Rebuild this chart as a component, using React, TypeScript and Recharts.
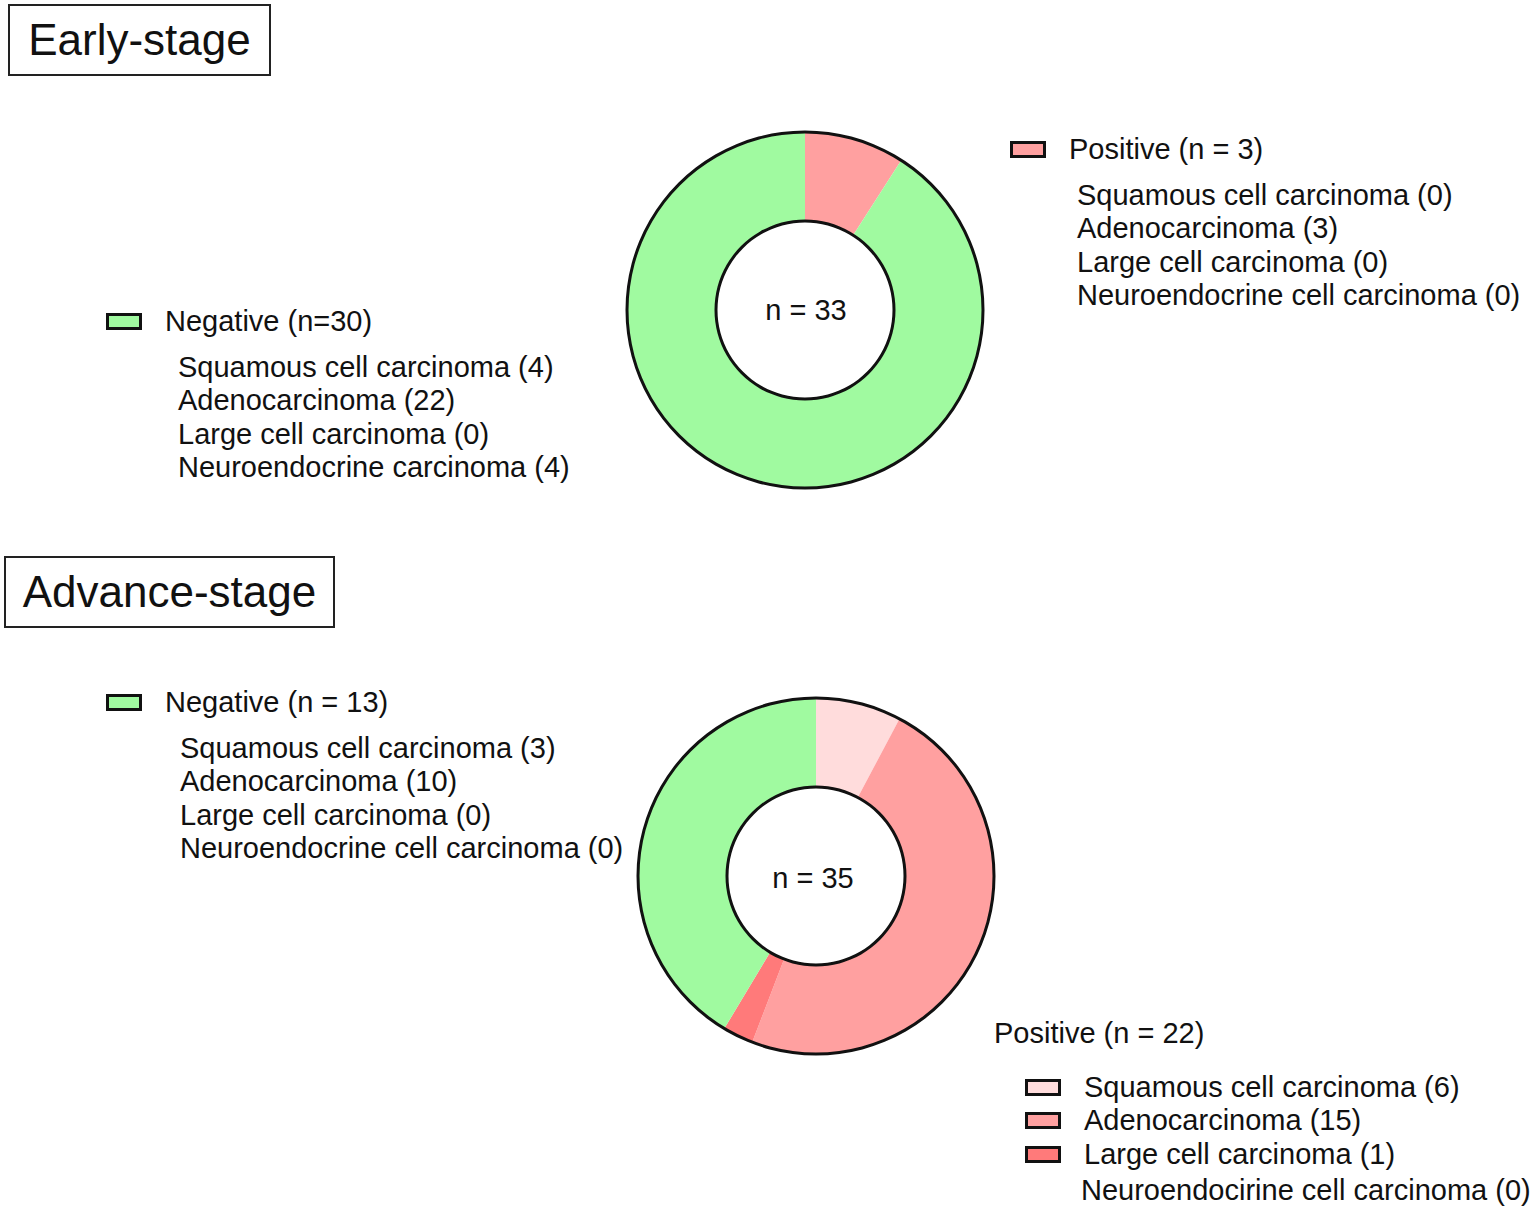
import React from 'react';
import { PieChart, Pie, Cell } from 'recharts';

// Early-stage counts
const earlyNames = ['Positive', 'Negative'];
const earlyCounts = [3, 30];
const earlyColors = ['#FFA0A0', '#A0FAA0'];

// Advance-stage: the drawn slices are not proportional to the counts,
// so the slice shares below are read from the slice angles (degrees).
const advanceNames = ['Squamous cell carcinoma', 'Adenocarcinoma', 'Large cell carcinoma', 'Negative'];
const advanceSliceShares = [28, 173, 10, 149];
const advanceColors = ['#FFDCDC', '#FFA0A0', '#FF7A7A', '#A0FAA0'];

const earlyPositiveLines = [
  'Squamous cell carcinoma (0)',
  'Adenocarcinoma (3)',
  'Large cell carcinoma (0)',
  'Neuroendocrine cell carcinoma (0)',
];
const earlyNegativeLines = [
  'Squamous cell carcinoma (4)',
  'Adenocarcinoma (22)',
  'Large cell carcinoma (0)',
  'Neuroendocrine carcinoma (4)',
];
const advanceNegativeLines = [
  'Squamous cell carcinoma (3)',
  'Adenocarcinoma (10)',
  'Large cell carcinoma (0)',
  'Neuroendocrine cell carcinoma (0)',
];
const advancePositiveLines = [
  'Squamous cell carcinoma (6)',
  'Adenocarcinoma (15)',
  'Large cell carcinoma (1)',
  'Neuroendocirine cell carcinoma (0)',
];

const earlyData = earlyNames.map((name, i) => ({ name, value: earlyCounts[i] }));
const advanceData = advanceNames.map((name, i) => ({ name, value: advanceSliceShares[i] }));
const ring = [{ name: 'ring', value: 1 }];

const FONT = 'Arial, "Liberation Sans", Helvetica, sans-serif';
const LH = 33.4;
const EARLY = { cx: 805, cy: 310 };
const ADV = { cx: 816, cy: 876 };

function Line({ x, cy, children, center }: { x: number; cy: number; children: React.ReactNode; center?: boolean }) {
  return (
    <div
      style={{
        position: 'absolute',
        left: x,
        top: cy - 17,
        fontSize: 29,
        lineHeight: '34px',
        whiteSpace: 'nowrap',
        color: '#111',
        transform: center ? 'translateX(-50%)' : undefined,
      }}
    >
      {children}
    </div>
  );
}

function Swatch({ x, cy, color }: { x: number; cy: number; color: string }) {
  return (
    <div
      style={{
        position: 'absolute',
        left: x,
        top: cy - 8,
        width: 36,
        height: 17,
        boxSizing: 'border-box',
        border: '3px solid #111',
        background: color,
      }}
    />
  );
}

function TitleBox({ x, y, w, h, text }: { x: number; y: number; w: number; h: number; text: string }) {
  return (
    <div
      style={{
        position: 'absolute',
        left: x,
        top: y,
        width: w,
        height: h,
        boxSizing: 'border-box',
        border: '2px solid #222',
        display: 'flex',
        alignItems: 'center',
        justifyContent: 'center',
        fontSize: 44,
        color: '#111',
      }}
    >
      {text}
    </div>
  );
}

function Donut({ data, colors, cx, cy }: { data: { name: string; value: number }[]; colors: string[]; cx: number; cy: number }) {
  return [
    <Pie
      key={`slices-${cx}`}
      data={data}
      dataKey="value"
      cx={cx}
      cy={cy}
      innerRadius={89}
      outerRadius={178}
      startAngle={90}
      endAngle={-270}
      stroke="none"
      isAnimationActive={false}
    >
      {data.map((d, i) => (
        <Cell key={d.name} fill={colors[i]} />
      ))}
    </Pie>,
    <Pie key={`outer-${cx}`} data={ring} dataKey="value" cx={cx} cy={cy} innerRadius={176.5} outerRadius={179.5} fill="#111" stroke="none" isAnimationActive={false} />,
    <Pie key={`inner-${cx}`} data={ring} dataKey="value" cx={cx} cy={cy} innerRadius={87.5} outerRadius={90.5} fill="#111" stroke="none" isAnimationActive={false} />,
  ];
}

export default function App() {
  return (
    <div style={{ position: 'absolute', left: 0, top: 0, width: 1535, height: 1211, background: '#fff', fontFamily: FONT }}>
      <PieChart width={1535} height={1211} margin={{ top: 0, right: 0, bottom: 0, left: 0 }} style={{ position: 'absolute', left: 0, top: 0 }}>
        {Donut({ data: earlyData, colors: earlyColors, ...EARLY })}
        {Donut({ data: advanceData, colors: advanceColors, ...ADV })}
      </PieChart>

      <Line x={EARLY.cx + 1} cy={EARLY.cy} center>n = 33</Line>
      <Line x={ADV.cx - 3} cy={ADV.cy + 2} center>n = 35</Line>

      <TitleBox x={8} y={4} w={263} h={72} text="Early-stage" />
      <TitleBox x={4} y={556} w={331} h={72} text="Advance-stage" />

      {/* Early-stage positive */}
      <Swatch x={1010} cy={149} color={earlyColors[0]} />
      <Line x={1069} cy={149}>Positive (n = 3)</Line>
      {earlyPositiveLines.map((t, i) => (
        <Line key={t} x={1077} cy={195 + i * LH}>{t}</Line>
      ))}

      {/* Early-stage negative */}
      <Swatch x={106} cy={321} color={earlyColors[1]} />
      <Line x={165} cy={321}>Negative (n=30)</Line>
      {earlyNegativeLines.map((t, i) => (
        <Line key={t} x={178} cy={367 + i * LH}>{t}</Line>
      ))}

      {/* Advance-stage negative */}
      <Swatch x={106} cy={702} color={advanceColors[3]} />
      <Line x={165} cy={702}>Negative (n = 13)</Line>
      {advanceNegativeLines.map((t, i) => (
        <Line key={t} x={180} cy={748 + i * LH}>{t}</Line>
      ))}

      {/* Advance-stage positive */}
      <Line x={994} cy={1033}>Positive (n = 22)</Line>
      {advancePositiveLines.map((t, i) => (
        <React.Fragment key={t}>
          {i < 3 && <Swatch x={1025} cy={1087 + i * LH} color={advanceColors[i]} />}
          <Line x={i < 3 ? 1084 : 1081} cy={i < 3 ? 1087 + i * LH : 1190}>{t}</Line>
        </React.Fragment>
      ))}
    </div>
  );
}
